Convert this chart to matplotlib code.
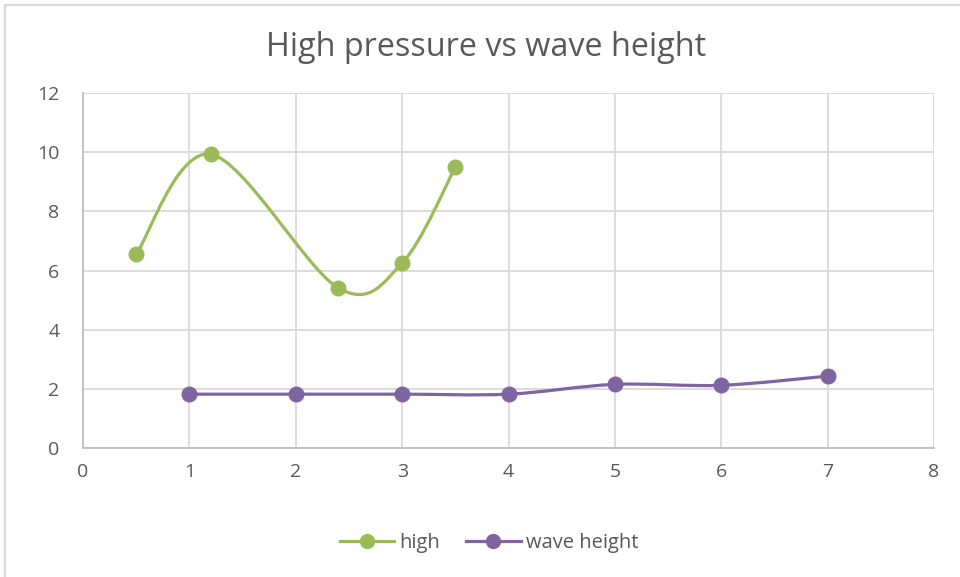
import numpy as np
import matplotlib
matplotlib.use("Agg")
import matplotlib.pyplot as plt
from matplotlib.path import Path
from matplotlib.patches import PathPatch
from matplotlib.lines import Line2D

title = "High pressure vs wave height"
high_x = [0.5, 1.2, 2.4, 3.0, 3.5]
high_y = [6.55, 9.93, 5.41, 6.25, 9.49]
wave_x = [1, 2, 3, 4, 5, 6, 7]
wave_y = [1.82, 1.82, 1.82, 1.82, 2.15, 2.12, 2.43]
series_names = ["high", "wave height"]
colors = ["#9BBB59", "#8064A2"]

plt.rcParams['font.family'] = ['Open Sans', 'DejaVu Sans']

fig = plt.figure(figsize=(9.6, 5.77), dpi=100)
ax = fig.add_axes([83/960, 1-448/577, (934-83)/960, (448-93)/577])


def smooth_path(xs, ys):
    pts = np.column_stack([xs, ys]).astype(float)
    n = len(pts)
    verts = [pts[0]]
    codes = [Path.MOVETO]
    for i in range(n - 1):
        p0 = pts[i - 1] if i > 0 else pts[i]
        p1 = pts[i]
        p2 = pts[i + 1]
        p3 = pts[i + 2] if i + 2 < n else pts[i + 1]
        c1 = p1 + (p2 - p0) / 6.0
        c2 = p2 - (p3 - p1) / 6.0
        verts += [c1, c2, p2]
        codes += [Path.CURVE4] * 3
    return Path(verts, codes)


for xs, ys, c in [(high_x, high_y, colors[0]), (wave_x, wave_y, colors[1])]:
    patch = PathPatch(smooth_path(xs, ys), facecolor='none', edgecolor=c,
                      lw=2.3, capstyle='round', joinstyle='round', zorder=3)
    ax.add_patch(patch)
    ax.plot(xs, ys, linestyle='none', marker='o', ms=10.5, color=c, zorder=4)

ax.set_xlim(0, 8)
ax.set_ylim(0, 12)
ax.set_xticks(range(0, 9))
ax.set_yticks(range(0, 13, 2))
ax.grid(True, color='#D9D9D9', lw=1.3)
ax.set_axisbelow(True)
for s in ['top', 'right']:
    ax.spines[s].set_visible(False)
for s in ['left', 'bottom']:
    ax.spines[s].set_color('#BFBFBF')
    ax.spines[s].set_linewidth(1.3)
ax.tick_params(length=0, labelsize=14, labelcolor='#595959')
ax.tick_params(axis='x', pad=11)
ax.tick_params(axis='y', pad=17)

fig.text(486/960, 1-48/577, title, ha='center', va='center', fontsize=23.3,
         color='#595959')

handles = [Line2D([], [], color=c, lw=2.3, marker='o', ms=10) for c in colors]
fig.legend(handles, series_names, loc='center', bbox_to_anchor=(489/960, 1-543/577),
           ncol=2, frameon=False, fontsize=14.5, labelcolor='#595959',
           handlelength=2.7, handletextpad=0.25, columnspacing=1.3)

fig.add_artist(Line2D([5/960, 5/960], [0, 1-5/577], transform=fig.transFigure,
                      color='#D9D9D9', lw=1.5))
fig.add_artist(Line2D([5/960, 1], [1-5/577, 1-5/577], transform=fig.transFigure,
                      color='#D9D9D9', lw=1.5))

fig.savefig("out.png", dpi=100)
